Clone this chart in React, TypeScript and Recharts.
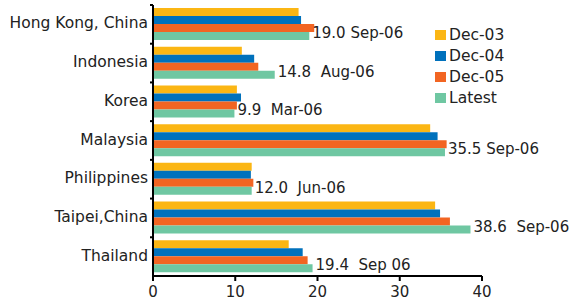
import React from "react";
import {
  BarChart,
  Bar,
  XAxis,
  YAxis,
  Legend,
  LabelList,
} from "recharts";

const categories = [
  "Hong Kong, China",
  "Indonesia",
  "Korea",
  "Malaysia",
  "Philippines",
  "Taipei,China",
  "Thailand",
];
const dec03 = [17.7, 10.8, 10.2, 33.7, 12.0, 34.3, 16.5];
const dec04 = [18.0, 12.3, 10.7, 34.6, 11.9, 34.9, 18.2];
const dec05 = [19.6, 12.8, 10.2, 35.7, 12.2, 36.1, 18.8];
const latest = [19.0, 14.8, 9.9, 35.5, 12.0, 38.6, 19.4];
const latestLabels = [
  "19.0 Sep-06",
  "14.8  Aug-06",
  "9.9  Mar-06",
  "35.5 Sep-06",
  "12.0  Jun-06",
  "38.6  Sep-06",
  "19.4  Sep 06",
];
const xTicks = [0, 10, 20, 30, 40];

const series = [
  { key: "dec03", name: "Dec-03", color: "#FBB614" },
  { key: "dec04", name: "Dec-04", color: "#0071BC" },
  { key: "dec05", name: "Dec-05", color: "#F26522" },
  { key: "latest", name: "Latest", color: "#6FC7A2" },
];

const data = categories.map((name, i) => ({
  name,
  dec03: dec03[i],
  dec04: dec04[i],
  dec05: dec05[i],
  latest: latest[i],
}));

const TEXT = "#222";
const FONT = "'DejaVu Sans', Verdana, sans-serif";
const CHART_H = 303;
const TOP = 5;
const X_AXIS_H = 27;
const BAND = (CHART_H - TOP - X_AXIS_H) / categories.length;

function CategoryTick(props: any) {
  const { x, y, payload } = props;
  const axisX = x + 5;
  const top = y - BAND / 2;
  return (
    <g>
      <line x1={axisX} x2={axisX - 3} y1={top} y2={top} stroke="#000" strokeWidth={2} />
      <text
        x={x}
        y={y + 4}
        textAnchor="end"
        fill={TEXT}
        fontSize={15.5}
        fontFamily={FONT}
      >
        {payload.value}
      </text>
    </g>
  );
}

function LatestLabel(props: any) {
  const { x, y, width, height, index } = props;
  return (
    <text
      x={x + width + 3}
      y={y + height / 2 + 2}
      fill={TEXT}
      fontSize={15}
      fontFamily={FONT}
      style={{ whiteSpace: "pre" }}
    >
      {latestLabels[index]}
    </text>
  );
}

function LegendBox() {
  return (
    <div style={{ fontFamily: FONT, fontSize: 15.5, color: TEXT }}>
      {series.map((s) => (
        <div
          key={s.key}
          style={{ display: "flex", alignItems: "center", height: 21 }}
        >
          <span
            style={{
              width: 11,
              height: 10,
              background: s.color,
              marginRight: 3,
              display: "inline-block",
            }}
          />
          <span>{s.name}</span>
        </div>
      ))}
    </div>
  );
}

export default function App() {
  return (
    <div style={{ position: "absolute", left: 0, top: 0 }}>
      <BarChart
        width={569}
        height={CHART_H}
        data={data}
        layout="vertical"
        margin={{ top: TOP, right: 87, bottom: 0, left: 0 }}
        barGap={0}
      >
        <XAxis
          type="number"
          domain={[0, 40]}
          ticks={xTicks}
          height={X_AXIS_H}
          axisLine={{ stroke: "#000", strokeWidth: 2 }}
          tickLine={{ stroke: "#000", strokeWidth: 2 }}
          tickSize={5}
          tickMargin={5}
          tick={{ fill: TEXT, fontSize: 15, fontFamily: FONT }}
          interval={0}
        />
        <YAxis
          type="category"
          dataKey="name"
          width={153}
          axisLine={{ stroke: "#000", strokeWidth: 2 }}
          tickLine={false}
          tickSize={0}
          tickMargin={5}
          tick={<CategoryTick />}
          interval={0}
        />
        <Legend
          layout="horizontal"
          verticalAlign="middle"
          align="center"
          content={<LegendBox />}
          wrapperStyle={{ position: "absolute", left: 435, top: 24, width: "auto" }}
        />
        {series.map((s) => (
          <Bar
            key={s.key}
            dataKey={s.key}
            name={s.name}
            fill={s.color}
            barSize={8}
            isAnimationActive={false}
          >
            {s.key === "latest" && (
              <LabelList dataKey="latest" content={<LatestLabel />} />
            )}
          </Bar>
        ))}
      </BarChart>
    </div>
  );
}
